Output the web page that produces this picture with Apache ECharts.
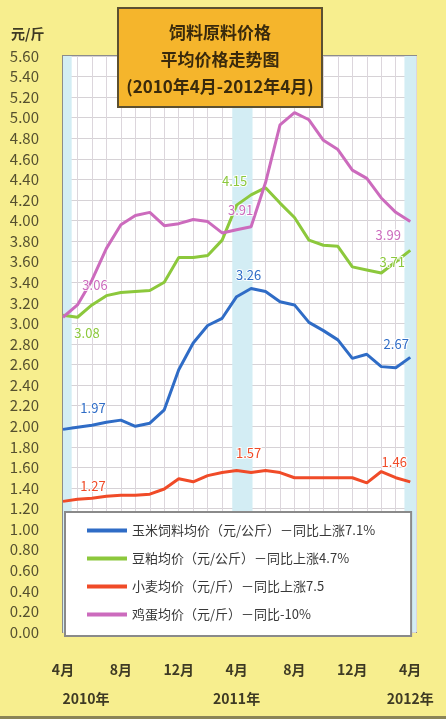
<!DOCTYPE html>
<html><head><meta charset="utf-8">
<script src="https://cdn.jsdelivr.net/npm/echarts@6/dist/echarts.min.js"></script>
<style>html,body{margin:0;padding:0;background:#f7ee8e}#c{width:446px;height:719px}</style>
</head><body><div id="c"></div>
<script>
// 2010年4月 ~ 2012年4月 (monthly)
const months = ['2010-04','2010-05','2010-06','2010-07','2010-08','2010-09','2010-10','2010-11','2010-12',
  '2011-01','2011-02','2011-03','2011-04','2011-05','2011-06','2011-07','2011-08','2011-09','2011-10','2011-11','2011-12',
  '2012-01','2012-02','2012-03','2012-04'];
const monthTickLabels = ['4月','8月','12月','4月','8月','12月','4月'];
const yearLabels = ['2010年','2011年','2012年'];
const unitLabel = '元/斤';
const titleLines = ['饲料原料价格','平均价格走势图','(2010年4月-2012年4月)'];
const seriesNames = ['玉米饲料均价（元/公斤）－同比上涨7.1%','豆粕均价（元/公斤）－同比上涨4.7%','小麦均价（元/斤）－同比上涨7.5','鸡蛋均价（元/斤）－同比-10%'];
const blueValues  = [1.97,1.99,2.01,2.04,2.06,2.00,2.03,2.16,2.55,2.81,2.98,3.05,3.26,3.34,3.31,3.21,3.18,3.01,2.93,2.84,2.66,2.70,2.58,2.57,2.67];
const greenValues = [3.08,3.06,3.18,3.27,3.30,3.31,3.32,3.40,3.64,3.64,3.66,3.81,4.15,4.25,4.32,4.17,4.03,3.81,3.76,3.75,3.55,3.52,3.49,3.60,3.71];
const redValues   = [1.27,1.29,1.30,1.32,1.33,1.33,1.34,1.39,1.49,1.46,1.52,1.55,1.57,1.55,1.57,1.55,1.50,1.50,1.50,1.50,1.50,1.45,1.56,1.50,1.46];
const pinkValues  = [3.06,3.18,3.42,3.73,3.96,4.05,4.08,3.95,3.97,4.01,3.99,3.88,3.91,3.94,4.37,4.93,5.05,4.98,4.78,4.69,4.49,4.41,4.22,4.08,3.99];
const labeledIdx = [0,12,24];

const colors = ['#2f6cc6','#8cc83c','#f04b28','#cc6bbd'];
const allValues = [blueValues, greenValues, redValues, pinkValues];
// label placement per series per labelled point (style only)
const labelStyles = [
  [{position:'top',offset:[30,-10]},{position:'top',offset:[12,-10]},{position:'top',offset:[-14,-2]}],
  [{position:'bottom',offset:[24,6]},{position:'top',offset:[-2,-12]},{position:'bottom',offset:[-18,0]}],
  [{position:'top',offset:[30,-4]},{position:'top',offset:[12,-6]},{position:'top',offset:[-16,-8]}],
  [{position:'top',offset:[32,-20]},{position:'top',offset:[4,-8]},{position:'bottom',offset:[-22,2]}]
];

const chart = echarts.init(document.getElementById('c'));
const font = '"Noto Sans CJK SC","Noto Sans",sans-serif';
const series = allValues.map((vals, s) => ({
  name: seriesNames[s], type: 'line', symbol: 'circle', symbolSize: 0.5, showSymbol: true, showAllSymbol: true,
  lineStyle: {color: colors[s], width: 3}, itemStyle: {color: colors[s]},
  z: 3,
  data: vals.map((v, i) => {
    const k = labeledIdx.indexOf(i);
    if (k < 0) return [i, v];
    return {value: [i, v], label: Object.assign({show: true, formatter: p => p.value[1].toFixed(2),
      color: colors[s], fontSize: 13, fontFamily: font, textBorderColor: 'rgba(255,255,255,0.9)', textBorderWidth: 2}, labelStyles[s][k])};
  }),
  markArea: s === 0 ? {silent: true, itemStyle: {color: '#d3edf4'},
    data: [[{xAxis: -0.2}, {xAxis: 0.6}], [{xAxis: 11.7}, {xAxis: 13.1}], [{xAxis: 23.6}, {xAxis: 24.4}]]} : undefined
}));

chart.setOption({
  backgroundColor: '#f7ee8e',
  animation: false,
  textStyle: {fontFamily: font},
  title: [
    {text: titleLines.join('\n'), left: 211, top: 8, textAlign: 'center',
     backgroundColor: '#f5b52c', borderColor: '#5c5030', borderWidth: 2, padding: [11, 9, 7, 9],
     textStyle: {fontSize: 17, fontWeight: 'bold', color: '#3a2a0c', lineHeight: 27, fontFamily: font}},
    {text: unitLabel, left: 6, top: 22, textStyle: {fontSize: 14, fontWeight: 'bold', color: '#3e3a24', fontFamily: font}}
  ],
  legend: {
    orient: 'vertical', left: 65, top: 512, itemWidth: 40, itemHeight: 4, itemGap: 15, icon: 'rect',
    backgroundColor: '#ffffff', borderColor: '#8a8a8a', borderWidth: 2, padding: [12, 36, 15, 22],
    textStyle: {fontSize: 13, color: '#383838', fontFamily: font},
    data: seriesNames
  },
  graphic: [{type: 'rect', shape: {x: 0, y: 716, width: 446, height: 3}, style: {fill: '#8a8456'}}],
  grid: {left: 63, right: 30, top: 56, bottom: 87, show: true, backgroundColor: '#ffffff', borderColor: '#8c8c8c', borderWidth: 2, containLabel: false},
  xAxis: [
    {type: 'value', min: 0, max: 24.4, interval: 1,
     axisLine: {show: false}, axisTick: {show: false},
     splitLine: {show: true, lineStyle: {color: '#dcd6dc', width: 1}},
     axisLabel: {margin: 31, fontSize: 14, color: '#3e3a24', fontWeight: 'bold',
       formatter: v => (Number.isInteger(v) && v % 4 === 0) ? monthTickLabels[v / 4] : ''}},
    {type: 'value', min: 0, max: 24.4, interval: 12, position: 'bottom',
     axisLine: {show: false}, axisTick: {show: false}, splitLine: {show: false},
     axisLabel: {margin: 60, fontSize: 14, color: '#3e3a24', fontWeight: 'bold',
       formatter: v => {
         if (!Number.isInteger(v) || v % 12 !== 0) return '';
         const t = yearLabels[v / 12];
         return v === 0 ? '{l|' + t + '}' : t;
       },
       rich: {l: {padding: [0, 0, 0, 46], fontSize: 14, color: '#3e3a24', fontWeight: 'bold'}}}}
  ],
  yAxis: {type: 'value', min: 0, max: 5.6, interval: 0.2,
    axisLine: {show: false}, axisTick: {show: false},
    splitLine: {show: true, lineStyle: {color: '#d6d2d6', width: 1}},
    axisLabel: {margin: 24, fontSize: 15, color: '#55502f', formatter: v => v.toFixed(2)}},
  series: series
});
</script>
</body></html>
